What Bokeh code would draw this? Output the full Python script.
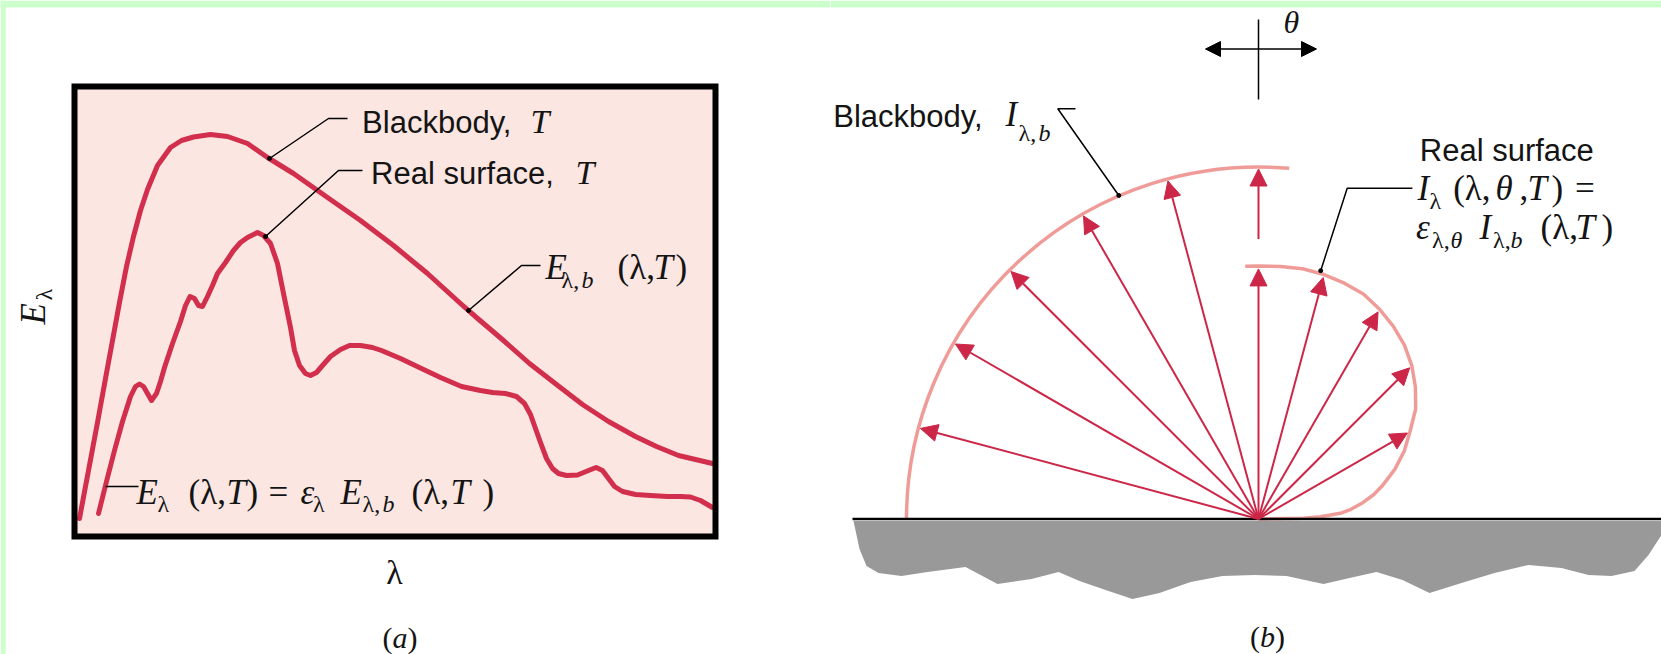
import numpy as np
from bokeh.plotting import figure
from bokeh.layouts import row
from bokeh.models import Label, Arrow, NormalHead, ColumnDataSource
from bokeh.embed import file_html
from bokeh.resources import INLINE

# ---------------- (a) spectral emissive power, arbitrary units ----------------
bb_wavelength = [5, 14, 23, 31, 38, 45, 52, 59, 66, 73, 83, 96, 107, 119, 136, 153,
                 173, 193, 219, 253, 286, 319, 353, 386, 402, 429, 455, 482, 508,
                 534, 561, 582, 604, 621, 638]
bb_power = [18, 66, 114, 158, 196, 234, 270, 300, 326, 347, 371, 389, 396, 399.5,
            402, 400, 393, 379, 363, 339, 316, 291, 263, 233, 219, 196, 173, 152,
            132, 115, 100, 90, 81, 77, 73]

real_wavelength = [24, 32, 40, 48, 56, 61, 65, 69, 73, 77, 82, 86, 90, 98, 106, 111,
                   115.5, 120, 124, 128, 133, 138, 143, 151, 159, 166, 173, 183, 189,
                   196, 203, 209, 216, 220, 225, 231, 236, 242, 248, 256, 266, 275,
                   286, 298, 307, 326, 349, 366, 387, 406, 418, 431, 442, 450, 456,
                   461, 466, 472, 478, 484, 492, 503, 514, 521.6, 528, 534, 540, 548,
                   561, 576, 593, 606, 616, 626, 638]
real_power = [23, 55, 86, 115, 140, 150, 152.5, 150, 143, 136, 143, 155, 169, 193,
              215, 231, 240, 238, 231, 230, 240, 251, 263, 274, 286, 294, 299, 304,
              301, 293, 273, 243, 209, 186, 171, 163, 161, 164, 171, 180, 187, 191,
              191, 189, 186, 178, 167, 159, 150, 146, 144, 143, 140, 133, 122, 108,
              94, 78, 68, 63, 61, 61.5, 66, 69, 66, 58, 50, 45, 42, 41, 40, 40, 39.5,
              36, 29]

# plotting window of panel (a) in the same units
lambda_max = 641
power_max = 450

# ---------------- (b) directional intensity, relative to the blackbody ----------------
blackbody_intensity = 1.0
real_angle_deg = [-3, 0, 5, 10, 15, 20, 25, 30, 35, 40, 45, 50, 55, 60, 65, 70, 75,
                  78, 81, 84, 86, 88, 89, 90]
real_emissivity = [0.719, 0.719, 0.720, 0.722, 0.719, 0.713, 0.705, 0.688, 0.668,
                   0.645, 0.616, 0.582, 0.545, 0.497, 0.457, 0.412, 0.364, 0.335,
                   0.301, 0.264, 0.233, 0.176, 0.128, 0.0]
bb_arrow_angles_deg = [-75, -60, -45, -30, -15]
real_arrow_angles_deg = [0, 15, 30, 45, 60]

# rough outline of the emitting solid below the surface line
ground_x = [-405, -399, -392, -380, -357, -331, -293, -261, -227, -200, -179, -150,
            -126, -99, -68, -36, -4, 28, 65, 91, 118, 144, 171, 203, 236, 270, 303,
            330, 353, 376, 390, 403, 403]
ground_y = [-2, -30, -47, -54, -57, -53, -48, -65, -60, -53, -62, -72, -80, -74,
            -63, -57, -56, -57, -65, -59, -53, -61, -74, -64, -54, -46, -49, -56,
            -57, -52, -36, -16, -2]

SANS = "Liberation Sans"
SERIF = "Liberation Serif"
INK = "#141414"
CURVE_RED = "#d22f4c"
ARROW_RED = "#cc2748"
LOBE_PINK = "#ef9c99"
GREEN = "#ccffcc"
PANEL_PINK = "#fbe6e2"
GROUND_GREY = "#999999"
R_BB = 352          # drawn radius of the blackbody hemisphere
BASELINE_FIX = 0.35  # em offset so that y is the alphabetic baseline


def word(fig, x, y, txt, size=35, style="normal", font=SERIF, angle=0.0, align="left"):
    # shift along the glyph "up" direction so the given point is the baseline
    shift = BASELINE_FIX * size
    x_adj = x - shift * np.sin(angle)
    y_adj = y + shift * np.cos(angle)
    fig.add_layout(Label(x=float(x_adj), y=float(y_adj), text=txt, text_font=font,
                         text_font_size=f"{size}px", text_font_style=style,
                         text_color=INK, text_baseline="alphabetic",
                         text_align=align, angle=angle))


def runs(fig, items):
    for x, y, txt, size, style in items:
        word(fig, x, y, txt, size=size, style=style)


def canvas(width, height, x_range, y_range):
    fig = figure(width=width, height=height, x_range=x_range, y_range=y_range,
                 output_backend="svg", toolbar_location=None, title=None,
                 x_axis_location=None, y_axis_location=None,
                 min_border_left=0, min_border_right=0, min_border_top=0,
                 min_border_bottom=0, background_fill_color="white",
                 border_fill_color="white", outline_line_color=None)
    fig.xgrid.visible = False
    fig.ygrid.visible = False
    return fig


# ---------------- panel (a) ----------------
pa = canvas(830, 654, x_range=(-74, 756), y_range=(-118, 536))

# light green page edge (top and left)
pa.quad(left=[-74, -74], right=[756, -69], bottom=[529, -118], top=[536, 536],
        fill_color=GREEN, line_color=None)

pa.quad(left=[0], right=[lambda_max], bottom=[0], top=[power_max],
        fill_color=PANEL_PINK, line_color=None)
pa.line(bb_wavelength, bb_power, line_color=CURVE_RED, line_width=5,
        line_join="round", line_cap="round")
pa.line(real_wavelength, real_power, line_color=CURVE_RED, line_width=5,
        line_join="round", line_cap="round")
pa.quad(left=[0], right=[lambda_max], bottom=[0], top=[power_max],
        fill_color=None, line_color="black", line_width=6, line_join="miter")

# leader lines
pa.line([273, 254, 195], [418, 418, 378], line_color="black", line_width=1.5)
pa.line([288, 264, 191], [366, 366, 300], line_color="black", line_width=1.5)
pa.line([466, 447, 394], [271, 271, 226], line_color="black", line_width=1.5)
pa.line([64, 31], [50, 50], line_color="black", line_width=1.5)
pa.scatter([195, 191, 394], [378, 300, 226], size=4, color="black")

word(pa, 287.6, 403.4, "Blackbody,", size=31, font=SANS)
word(pa, 456, 403.4, "T", size=34, style="italic")
word(pa, 296.6, 352.5, "Real surface,", size=31, font=SANS)
word(pa, 501, 352.5, "T", size=34, style="italic")

runs(pa, [
    (471, 257, "E", 35, "italic"),
    (487, 248, "λ,", 24, "normal"),
    (507, 248, "b", 24, "italic"),
    (543, 257, "(λ,", 35, "normal"),
    (579, 257, "T", 35, "italic"),
    (601, 257, ")", 35, "normal"),
])

runs(pa, [
    (62, 32, "E", 35, "italic"),
    (83, 24, "λ", 24, "normal"),
    (114, 32, "(λ,", 35, "normal"),
    (152, 32, "T", 35, "italic"),
    (172, 32, ")", 35, "normal"),
    (194, 32, "=", 35, "normal"),
    (226, 32, "ε", 35, "italic"),
    (238.5, 24, "λ", 24, "normal"),
    (266, 32, "E", 35, "italic"),
    (288, 24, "λ,", 24, "normal"),
    (308, 24, "b", 24, "italic"),
    (337, 32, "(λ,", 35, "normal"),
    (376, 32, "T", 35, "italic"),
    (408, 32, ")", 35, "normal"),
])

# axis captions
word(pa, -29, 212, "E", size=35, style="italic", angle=np.pi / 2)
word(pa, -22, 236, "λ", size=24, angle=np.pi / 2)
word(pa, 320, -48, "λ", size=34, align="center")
runs(pa, [
    (308, -111, "(", 30, "normal"),
    (318, -111, "a", 30, "italic"),
    (333, -111, ")", 30, "normal"),
])

# ---------------- panel (b) ----------------
pb = canvas(831, 654, x_range=(-428, 403), y_range=(-135.5, 518.5))

# light green page edge (top)
pb.quad(left=[-428], right=[403], bottom=[511.5], top=[518.5],
        fill_color=GREEN, line_color=None)

# blackbody hemisphere (diffuse: constant intensity)
pb.arc(x=0, y=0, radius=R_BB * blackbody_intensity, start_angle=np.radians(85),
       end_angle=np.pi, line_color=LOBE_PINK, line_width=3.5)

# real surface directional lobe
theta = np.radians(real_angle_deg)
eps = np.array(real_emissivity)
pb.line(R_BB * eps * np.sin(theta), R_BB * eps * np.cos(theta),
        line_color=LOBE_PINK, line_width=3.5, line_join="round")

# surface and solid
pb.patch(ground_x, ground_y, fill_color=GROUND_GREY, line_color=None)
pb.line([-406, 403], [0, 0], line_color="black", line_width=2.5)

# intensity arrows
bb_t = np.radians(bb_arrow_angles_deg)
bb_r = R_BB * blackbody_intensity - 2
bb_src = ColumnDataSource(dict(x0=[0] * len(bb_t), y0=[0] * len(bb_t),
                               x1=bb_r * np.sin(bb_t), y1=bb_r * np.cos(bb_t)))
pb.add_layout(Arrow(end=NormalHead(size=17, fill_color=ARROW_RED, line_color=ARROW_RED),
                    source=bb_src, x_start="x0", y_start="y0", x_end="x1", y_end="y1",
                    line_color=ARROW_RED, line_width=2))

idx = [real_angle_deg.index(a) for a in real_arrow_angles_deg]
re_t = np.radians(real_arrow_angles_deg)
re_r = R_BB * eps[idx] - 3
re_src = ColumnDataSource(dict(x0=[0] * len(re_t), y0=[0] * len(re_t),
                               x1=re_r * np.sin(re_t), y1=re_r * np.cos(re_t)))
pb.add_layout(Arrow(end=NormalHead(size=17, fill_color=ARROW_RED, line_color=ARROW_RED),
                    source=re_src, x_start="x0", y_start="y0", x_end="x1", y_end="y1",
                    line_color=ARROW_RED, line_width=2))

# normal-direction blackbody arrow continues above the real-surface one
normal_eps = real_emissivity[real_angle_deg.index(0)]
pb.add_layout(Arrow(end=NormalHead(size=17, fill_color=ARROW_RED, line_color=ARROW_RED),
                    x_start=0, y_start=R_BB * normal_eps + 27, x_end=0,
                    y_end=R_BB * blackbody_intensity - 2,
                    line_color=ARROW_RED, line_width=2))

# angle symbol cross
pb.segment(x0=[0], y0=[419.5], x1=[0], y1=[499.5], line_color="black", line_width=1.5)
pb.add_layout(Arrow(start=NormalHead(size=15, fill_color="black", line_color="black"),
                    end=NormalHead(size=15, fill_color="black", line_color="black"),
                    x_start=-53, y_start=470, x_end=58, y_end=470,
                    line_color="black", line_width=1.5))
word(pb, 25, 485.5, "θ", size=32, style="italic")

# leaders
pb.line([-183, -200.7, -139.7], [410.2, 410.2, 323.5], line_color="black", line_width=1.5)
pb.line([153.9, 88.7, 62.2], [330.8, 330.8, 248.3], line_color="black", line_width=1.5)
pb.scatter([-139.7, 62.2], [323.5, 248.3], size=4, color="black")

word(pb, -425.3, 391.8, "Blackbody,", size=31, font=SANS)
runs(pb, [
    (-253, 391.8, "I", 35, "italic"),
    (-240, 377.5, "λ,", 24, "normal"),
    (-220, 377.5, "b", 24, "italic"),
])

word(pb, 161.3, 358, "Real surface", size=31, font=SANS)
runs(pb, [
    (159, 318.5, "I", 35, "italic"),
    (171, 309.5, "λ", 24, "normal"),
    (194.7, 318.5, "(λ,", 35, "normal"),
    (237, 318.5, "θ", 35, "italic"),
    (261, 318.5, ",", 35, "normal"),
    (269, 318.5, "T", 35, "italic"),
    (293, 318.5, ")", 35, "normal"),
    (316.6, 318.5, "=", 35, "normal"),
    (157.6, 279.5, "ε", 35, "italic"),
    (173.6, 270.5, "λ,", 24, "normal"),
    (192, 270.5, "θ", 24, "italic"),
    (221, 279.5, "I", 35, "italic"),
    (234.5, 270.5, "λ,", 24, "normal"),
    (252, 270.5, "b", 24, "italic"),
    (282, 279.5, "(λ,", 35, "normal"),
    (317, 279.5, "T", 35, "italic"),
    (343, 279.5, ")", 35, "normal"),
])

runs(pb, [
    (-8.5, -127.5, "(", 30, "normal"),
    (1.5, -127.5, "b", 30, "italic"),
    (16.5, -127.5, ")", 30, "normal"),
])

layout = row(pa, pb)
open("out.html", "w").write(file_html(layout, INLINE))
